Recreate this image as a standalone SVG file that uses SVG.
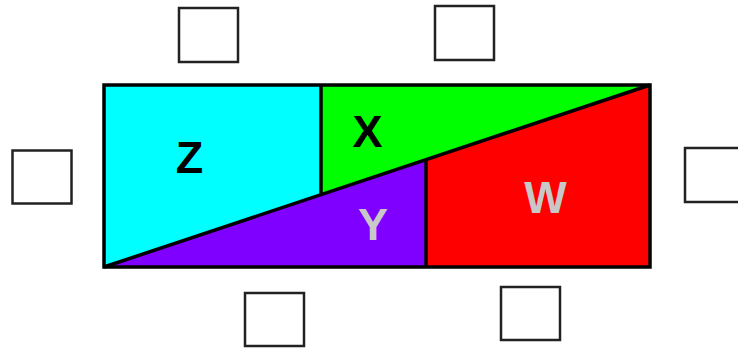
<svg xmlns="http://www.w3.org/2000/svg" width="738" height="349" viewBox="0 0 738 349">
<style>
.box{fill:#fff;stroke:#222;stroke-width:2.5}
.ln{stroke:#000;stroke-width:3.5;fill:none}
.lbl{font-family:"Liberation Sans",Arial,sans-serif;font-size:45px;font-weight:bold;text-anchor:middle}
</style>
<rect width="738" height="349" fill="#fff"/>
<g id="regions">
<g id="Z"><polygon points="104,85 321,85 321,194.7 104,267" fill="#00FFFF"/><text class="lbl" x="189.5" y="173" fill="#000">Z</text></g>
<g id="X"><polygon points="321,85 650,85 321,194.7" fill="#00FF00"/><text class="lbl" x="367.5" y="147" fill="#000">X</text></g>
<g id="Y"><polygon points="104,267 426,159.7 426,267" fill="#7F00FF"/><text class="lbl" x="373" y="240" fill="#C8C8C8">Y</text></g>
<g id="W"><polygon points="426,159.7 650,85 650,267 426,267" fill="#FF0000"/><text class="lbl" x="545.5" y="213" fill="#C8C8C8">W</text></g>
</g>
<g id="connectors">
<rect class="ln" x="104" y="85" width="546" height="182"/>
<line class="ln" x1="104" y1="267" x2="650" y2="85"/>
<line class="ln" x1="321" y1="85" x2="321" y2="194.7"/>
<line class="ln" x1="426" y1="159.7" x2="426" y2="267"/>
</g>
<g id="box1"><rect class="box" x="179" y="8" width="59" height="54"/></g>
<g id="box2"><rect class="box" x="435" y="6" width="59" height="54"/></g>
<g id="box3"><rect class="box" x="12.5" y="150.5" width="59" height="53"/></g>
<g id="box4"><rect class="box" x="685" y="148" width="60" height="54"/></g>
<g id="box5"><rect class="box" x="245" y="293" width="59" height="53"/></g>
<g id="box6"><rect class="box" x="501" y="287" width="59" height="53"/></g>
</svg>
